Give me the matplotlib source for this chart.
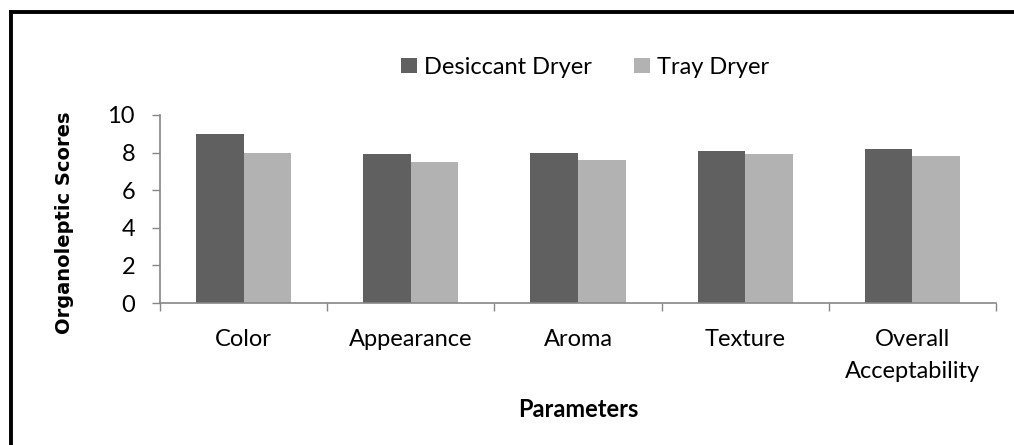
import numpy as np
import matplotlib
matplotlib.use('Agg')
import matplotlib.pyplot as plt
from matplotlib.lines import Line2D

categories = ['Color', 'Appearance', 'Aroma', 'Texture', 'Overall\nAcceptability']
desiccant = [9.0, 7.9, 8.0, 8.1, 8.2]
tray = [8.0, 7.5, 7.6, 7.9, 7.8]
series_names = ['Desiccant Dryer', 'Tray Dryer']
yticks = [0, 2, 4, 6, 8, 10]

DARK = '#606060'
LIGHT = '#b2b2b2'
AXIS = '#868686'
FONT = 'Lato'
FS = 17

fig = plt.figure(figsize=(10.14, 4.45), dpi=100)
ax = fig.add_axes([0.1578, 0.3191, 0.8244, 0.4225])

x = np.arange(len(categories))
w = 0.285
ax.bar(x - w / 2, desiccant, w, color=DARK, label=series_names[0])
ax.bar(x + w / 2, tray, w, color=LIGHT, label=series_names[1])

ax.set_xlim(-0.5, len(categories) - 0.5)
ax.set_ylim(0, 10)
ax.set_yticks(yticks)
ax.set_yticklabels([str(v) for v in yticks], family=FONT, fontsize=FS)

# category labels at centers, tick marks at the boundaries
ax.set_xticks(x)
ax.set_xticklabels(categories, family=FONT, fontsize=FS, linespacing=1.6)
ax.set_xticks(np.arange(len(categories) + 1) - 0.5, minor=True)
ax.tick_params(axis='x', which='major', length=0, pad=19)
ax.tick_params(axis='x', which='minor', length=6, width=1, color=AXIS, direction='out')
ax.tick_params(axis='y', length=6, width=1, color=AXIS, pad=12)

for s in ['top', 'right']:
    ax.spines[s].set_visible(False)
for s in ['left', 'bottom']:
    ax.spines[s].set_color(AXIS)
    ax.spines[s].set_linewidth(1.2)

fig.text(0.064, 0.50, 'Organoleptic Scores', rotation=90, ha='center', va='center',
         family='DejaVu Sans', fontweight='bold', fontsize=14)
fig.text(0.570, 0.079, 'Parameters', ha='center', va='center',
         family=FONT, fontweight='bold', fontsize=FS)

fig.legend(loc='center', bbox_to_anchor=(0.577, 0.849), ncol=2, frameon=False,
           prop={'family': FONT, 'size': FS}, handlelength=0.65, handleheight=0.65,
           handletextpad=0.3, columnspacing=1.8)

# outer frame (only top and left edges visible in the crop)
fig.add_artist(Line2D([0.0108, 0.0108], [0.0, 0.973], transform=fig.transFigure,
                      color='black', linewidth=2.8))
fig.add_artist(Line2D([0.0108, 1.0], [0.973, 0.973], transform=fig.transFigure,
                      color='black', linewidth=2.8))

fig.savefig('out.png', dpi=100)
